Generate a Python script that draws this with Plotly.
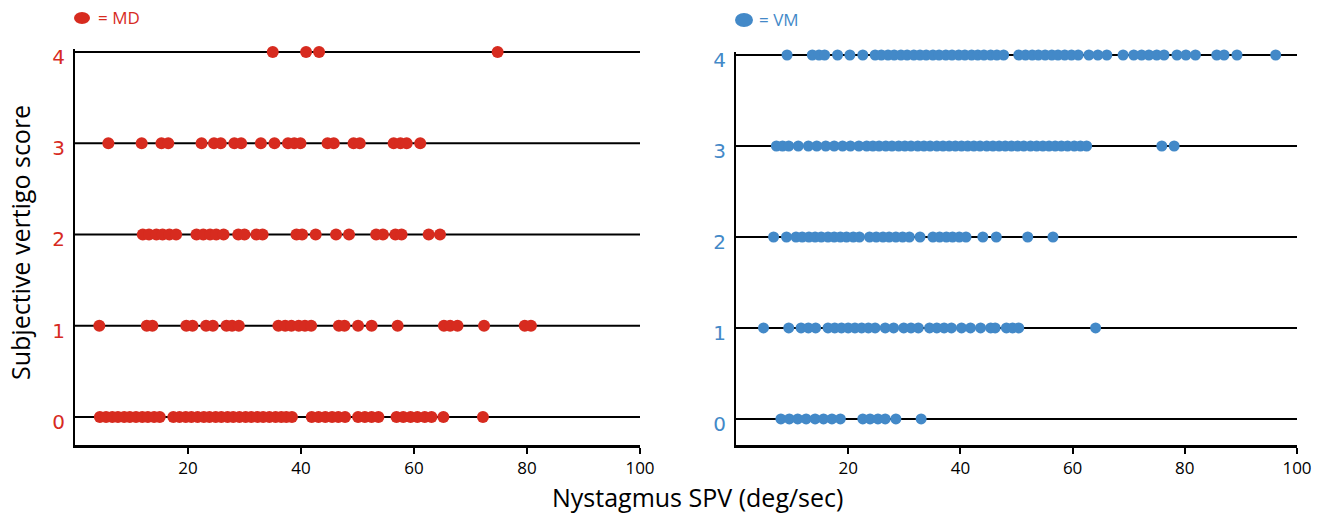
import plotly.graph_objects as go

W, H = 1321, 514

# ---------------- data (Nystagmus SPV, deg/sec) per subjective vertigo score ----------------
scores = [0, 1, 2, 3, 4]
x_ticks = [20, 40, 60, 80, 100]

md_score0 = [4.4, 5.5, 6.6, 7.6, 8.7, 9.7, 10.8, 11.9, 12.9, 14.0, 15.0,
             17.4, 18.5, 19.6, 20.6, 21.7, 22.8, 23.8, 24.9, 25.9, 27.0, 28.0,
             29.1, 30.2, 31.2, 32.3, 33.3, 34.4, 35.5, 36.5, 37.4, 38.4,
             41.9, 43.1, 44.3, 45.5, 46.6, 47.8,
             50.1, 51.3, 52.5, 53.7,
             56.9, 58.1, 59.4, 60.6, 61.9, 63.1,
             65.2, 72.2]
md_score1 = [4.3, 12.7, 13.7, 19.7, 20.8, 23.2, 24.4, 26.8, 27.8, 29.0,
             36.0, 37.2, 38.3, 39.6, 40.7, 41.8, 46.7, 47.7, 50.1, 52.5,
             57.1, 65.3, 66.4, 67.7, 72.4, 79.6, 80.7]
md_score2 = [12.0, 13.1, 14.4, 15.5, 16.7, 17.9, 21.5, 22.7, 23.9, 25.0, 26.3,
             28.9, 30.0, 32.1, 33.2, 39.2, 40.2, 42.6, 46.2, 48.5, 53.3, 54.5,
             56.7, 57.8, 62.6, 64.6]
md_score3 = [5.9, 11.8, 15.3, 16.5, 22.4, 24.6, 25.8, 28.2, 29.4, 32.9, 35.3,
             37.7, 38.8, 39.9, 44.7, 45.8, 49.3, 50.4, 56.4, 57.6, 58.7, 61.1]
md_score4 = [35.0, 40.9, 43.2, 74.8]

vm_score0 = [8.0, 9.5, 11.0, 12.5, 14.1, 15.6, 17.1, 18.6,
             22.6, 23.9, 25.3, 26.6, 28.5, 33.0]
vm_score1 = [4.9, 9.4, 11.6, 12.9, 14.2, 16.4, 17.6, 18.8, 20.0, 21.2, 22.4,
             23.6, 24.8, 26.6, 28.1, 29.9, 31.2, 32.5, 34.5, 35.8, 37.1, 38.4,
             40.2, 41.8, 43.6, 45.4, 46.2, 48.2, 49.3, 50.4, 64.1]
vm_score2 = [6.7, 9.0, 10.7, 11.8, 13.0, 14.1, 15.2, 16.4, 17.5, 18.6, 19.7,
             20.9, 22.0, 23.8, 25.0, 26.2, 27.3, 28.5, 29.7, 30.9, 32.8, 35.1,
             36.3, 37.5, 38.6, 39.8, 41.0, 44.0, 46.4, 52.0, 56.5]
vm_score3 = [7.2, 8.3, 9.4, 11.1, 12.9, 14.4, 16.0, 17.5, 19.0, 20.4, 21.9,
             23.3, 24.4, 25.5, 26.7, 27.8, 29.0, 30.1, 31.2, 32.4, 33.5, 34.6,
             35.8, 36.9, 38.0, 39.1,
             40.2, 41.3, 42.4, 43.5, 44.7, 45.8, 46.9, 48.0, 49.1, 50.2, 51.3,
             52.5, 53.6, 54.7, 55.8, 56.9, 58.0, 59.1, 60.3, 61.4, 62.5,
             75.9, 78.1]
vm_score4 = [9.1, 13.6, 14.8, 15.8, 18.1, 20.3, 22.6,
             24.8, 25.9, 27.1, 28.2, 29.4, 30.5, 31.7, 32.8, 33.9, 35.1, 36.2,
             37.4, 38.5, 39.7, 40.8, 42.0, 43.1, 44.2, 45.4, 46.5, 47.7,
             50.4, 51.6, 52.8, 53.9, 55.1, 56.3, 57.4, 58.6, 59.8, 61.0,
             62.9, 64.5, 66.1, 69.0, 70.9, 72.3, 73.6, 75.0, 76.3, 78.6, 80.2,
             81.9, 85.7, 87.0, 89.3, 96.2]

md_groups = [md_score0, md_score1, md_score2, md_score3, md_score4]
vm_groups = [vm_score0, vm_score1, vm_score2, vm_score3, vm_score4]

RED = "#D72B1F"
BLUE = "#4389C8"


def flatten(groups):
    xs, ys = [], []
    for s, g in zip(scores, groups):
        xs += g
        ys += [s] * len(g)
    return xs, ys


md_x, md_y = flatten(md_groups)
vm_x, vm_y = flatten(vm_groups)

fig = go.Figure()
fig.add_trace(go.Scatter(x=md_x, y=md_y, mode="markers", xaxis="x", yaxis="y",
                         marker=dict(size=12, color=RED), cliponaxis=False,
                         showlegend=False))
fig.add_trace(go.Scatter(x=vm_x, y=vm_y, mode="markers", xaxis="x2", yaxis="y2",
                         marker=dict(size=11, color=BLUE), cliponaxis=False,
                         showlegend=False))

px = lambda v: v / W
py = lambda v: 1 - v / H

xcommon = dict(range=[0, 100], tickvals=x_ticks, showline=True, linecolor="black",
               linewidth=2.5, ticks="outside", ticklen=6, tickwidth=1.5,
               tickcolor="black", showgrid=False, zeroline=False, automargin=False,
               ticklabelstandoff=0,
               tickfont=dict(family="Open Sans", size=17, color="black"))
ycommon = dict(tickvals=scores, showline=True, linecolor="black", linewidth=2,
               ticks="", showgrid=False, zeroline=False, ticklabelshift=5,
               ticklabelstandoff=4, automargin=False)

TOP_PAD = 0.03
fig.update_layout(
    width=W, height=H,
    margin=dict(l=0, r=0, t=0, b=0, pad=0),
    paper_bgcolor="white", plot_bgcolor="white",
    xaxis=dict(domain=[px(75), px(640)], anchor="y", **xcommon),
    xaxis2=dict(domain=[px(736), px(1297)], anchor="y2", **xcommon),
    yaxis=dict(domain=[py(445), py(52 - TOP_PAD * 91.25)], range=[-0.307, 4 + TOP_PAD],
               anchor="x", tickfont=dict(family="DejaVu Sans", size=20, color=RED),
               **ycommon),
    yaxis2=dict(domain=[py(445), py(55 - TOP_PAD * 91.0)], range=[-0.286, 4 + TOP_PAD],
                anchor="x2", tickfont=dict(family="DejaVu Sans", size=20, color=BLUE),
                **ycommon),
)

shapes = []
for xr, yr in (("x domain", "y"), ("x2 domain", "y2")):
    for s in scores:
        shapes.append(dict(type="line", xref=xr, yref=yr, x0=0, x1=1, y0=s, y1=s,
                           line=dict(color="black", width=2.2), layer="below"))
# legend symbols
shapes.append(dict(type="circle", xref="paper", yref="paper", xsizemode="pixel",
                   ysizemode="pixel", xanchor=px(82), yanchor=py(18),
                   x0=-8, x1=8, y0=-6, y1=6, fillcolor=RED, line=dict(width=0)))
shapes.append(dict(type="circle", xref="paper", yref="paper", xsizemode="pixel",
                   ysizemode="pixel", xanchor=px(744), yanchor=py(20),
                   x0=-9, x1=9, y0=-7, y1=7, fillcolor=BLUE, line=dict(width=0)))
fig.update_layout(shapes=shapes)

annotations = [
    dict(text="= MD", x=px(96), y=py(18), xref="paper", yref="paper",
         xanchor="left", yanchor="middle", showarrow=False,
         font=dict(family="Open Sans", size=17, color=RED)),
    dict(text="= VM", x=px(757), y=py(20), xref="paper", yref="paper",
         xanchor="left", yanchor="middle", showarrow=False,
         font=dict(family="Open Sans", size=17, color=BLUE)),
    dict(text="Subjective vertigo score", x=px(20), y=py(243), xref="paper",
         yref="paper", xanchor="center", yanchor="middle", textangle=-90,
         showarrow=False, font=dict(family="Open Sans", size=25, color="black")),
    dict(text="Nystagmus SPV (deg/sec)", x=px(697), y=py(497), xref="paper",
         yref="paper", xanchor="center", yanchor="middle", showarrow=False,
         font=dict(family="Open Sans", size=25, color="black")),
]
fig.update_layout(annotations=annotations)

fig.write_html("out.html", config={"displayModeBar": False},
               post_script="document.body.style.margin='0';document.body.style.overflow='hidden';")
